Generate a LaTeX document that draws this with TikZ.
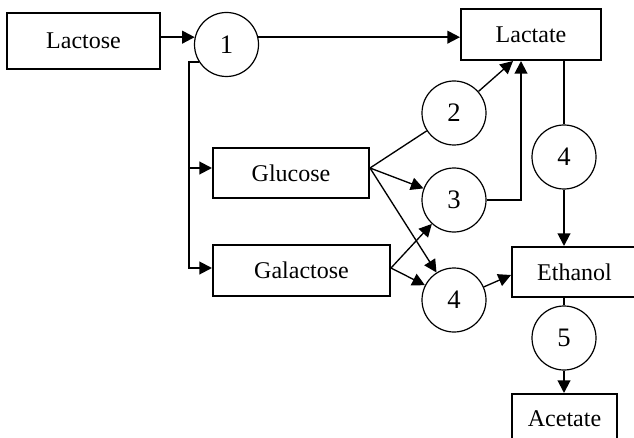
\documentclass[tikz,border=0pt]{standalone}
\usepackage{fontspec}
\setmainfont{Liberation Serif}
\usetikzlibrary{arrows.meta,calc}
\tikzset{
  box/.style={draw, line width=1.5pt, rectangle, inner sep=0pt, font=\fontsize{18}{20}\selectfont},
  rc/.style={draw, line width=0.9pt, circle, minimum size=48pt, inner sep=0pt, font=\fontsize{20}{22}\selectfont},
  thickc/.style={line width=1.5pt},
  thinc/.style={line width=1pt},
  tip/.style={-{Triangle[length=9.5pt,width=9.5pt]}},
}
\begin{document}
\begin{tikzpicture}[x=0.75pt,y=-0.75pt]
\useasboundingbox (0,0) rectangle (634,438);
\clip (0,0) rectangle (634,438);
% boxes
\node[box, minimum width=153*0.75pt, minimum height=56*0.75pt] (lactose) at (83.5,41) {Lactose};
\node[box, minimum width=140*0.75pt, minimum height=51*0.75pt] (lactate) at (531,34.5) {Lactate};
\node[box, minimum width=156*0.75pt, minimum height=50*0.75pt] (glucose) at (291,173) {Glucose};
\node[box, minimum width=177*0.75pt, minimum height=51*0.75pt] (galactose) at (301.5,270.5) {Galactose};
\node[box, minimum width=125*0.75pt, minimum height=50*0.75pt] (ethanol) at (574.5,272) {Ethanol};
\node[box, minimum width=105*0.75pt, minimum height=50*0.75pt] (acetate) at (564.5,419) {Acetate};
% circles
\node[rc] (c1) at (226.5,44.5) {1};
\node[rc] (c2) at (454,113) {2};
\node[rc] (c3) at (454,200) {3};
\node[rc] (c4a) at (454,300) {4};
\node[rc] (c4b) at (564,157) {4};
\node[rc] (c5) at (564,338) {5};
% coordinates
\coordinate (vx) at (189,0);
\coordinate (g1) at ($(glucose.east)+(0,-5)$);
\coordinate (ga1) at ($(galactose.east)+(0,-2.5)$);
\coordinate (lt1) at ($(lactate.south)+(-18,0)$);
\coordinate (lt2) at ($(lactate.south)+(-10,0)$);
\coordinate (et1) at ($(ethanol.west)+(0,3)$);
% connectors
\draw[thickc,tip] (lactose.east |- c1.167) -- (c1.167);
\draw[thickc,tip] (c1.13) -- (lactate.west |- c1.13);
\draw[thickc,tip] (c1.212) -| (vx |- ga1) -- (galactose.west |- ga1);
\draw[thickc,tip] (vx |- g1) -- (glucose.west |- g1);
\draw[thinc] (g1) -- (c2);
\draw[thinc,tip] (g1) -- (c3);
\draw[thinc,tip] (g1) -- (c4a);
\draw[thinc,tip] (ga1) -- (c3);
\draw[thinc,tip] (ga1) -- (c4a);
\draw[thinc,tip] (c2) -- (lt1);
\draw[thickc,tip] (c3.east) -| (lt2);
\draw[thinc,tip] (c4a) -- (et1);
\draw[thickc] (c4b |- lactate.south) -- (c4b.north);
\draw[thickc,tip] (c4b.south) -- (c4b |- ethanol.north);
\draw[thickc] (c5 |- ethanol.south) -- (c5.north);
\draw[thickc,tip] (c5.south) -- (c5 |- acetate.north);
\end{tikzpicture}
\end{document}
